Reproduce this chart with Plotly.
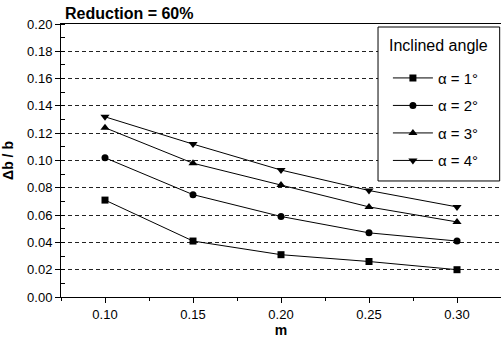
import plotly.graph_objects as go

m_values = [0.10, 0.15, 0.20, 0.25, 0.30]
alpha1 = [0.071, 0.041, 0.031, 0.026, 0.020]
alpha2 = [0.102, 0.075, 0.059, 0.047, 0.041]
alpha3 = [0.124, 0.098, 0.082, 0.066, 0.055]
alpha4 = [0.132, 0.112, 0.093, 0.078, 0.066]
series_names = ["α = 1°", "α = 2°", "α = 3°", "α = 4°"]
x_ticks = [0.10, 0.15, 0.20, 0.25, 0.30]
x_tick_labels = ["0.10", "0.15", "0.20", "0.25", "0.30"]

symbols = ["square", "circle", "triangle-up", "triangle-down"]
sizes = [7, 7, 8, 8]

FONT = "Liberation Sans, Arial, sans-serif"

fig = go.Figure()
for i, (name, ys) in enumerate(zip(series_names, [alpha1, alpha2, alpha3, alpha4])):
    fig.add_trace(go.Scatter(
        x=m_values, y=ys, name=name, mode="lines+markers",
        legendgroup=f"g{i}",
        line=dict(color="black", width=1),
        marker=dict(symbol=symbols[i], size=sizes[i], color="black"),
    ))

fig.update_layout(
    width=501, height=338,
    margin=dict(l=61, r=0, t=24, b=41),
    paper_bgcolor="white", plot_bgcolor="white",
    font=dict(family=FONT, color="black", size=12),
    showlegend=True,
    legend=dict(
        x=0.743, y=0.862, xanchor="left", yanchor="top",
        bgcolor="rgba(0,0,0,0)", borderwidth=0,
        font=dict(size=15, family=FONT),
        tracegroupgap=5,
        itemwidth=40,
    ),
    xaxis=dict(
        range=[0.075, 0.325], tickvals=x_ticks, ticktext=x_tick_labels,
        showgrid=False, zeroline=False,
        showline=True, linecolor="black", linewidth=1, mirror=True,
        ticks="outside", ticklen=5, tickcolor="black",
        minor=dict(dtick=0.025, tick0=0.075, ticks="outside", ticklen=3, tickcolor="black"),
        tickfont=dict(size=13),
        title=dict(text="<b>m</b>", font=dict(size=14), standoff=0),
    ),
    yaxis=dict(
        range=[0, 0.20], dtick=0.02, tickformat=".2f",
        showgrid=True, gridcolor="#222222", gridwidth=1, griddash="4px,3px",
        zeroline=False,
        showline=True, linecolor="black", linewidth=1,
        ticks="outside", ticklen=5, tickcolor="black",
        minor=dict(dtick=0.01, ticks="inside", ticklen=4, tickcolor="black", showgrid=False),
        tickfont=dict(size=13),
        title=dict(text="<b>Δb / b</b>", font=dict(size=14), standoff=10),
    ),
    shapes=[dict(
        type="rect", xref="paper", yref="paper",
        x0=0.7205, x1=0.997, y0=0.425, y1=0.989,
        line=dict(color="black", width=1), fillcolor="white", layer="above",
    )],
    annotations=[
        dict(
            text="<b>Reduction = 60%</b>", xref="paper", yref="paper",
            x=0.005, y=1.0, xanchor="left", yanchor="bottom",
            showarrow=False, font=dict(size=16, family=FONT),
        ),
        dict(
            text="Inclined angle", xref="paper", yref="paper",
            x=0.859, y=0.923, xanchor="center", yanchor="middle",
            showarrow=False, font=dict(size=16, family=FONT),
        ),
    ],
)

fig.write_html("out.html", config={"displayModeBar": False},
               post_script="document.body.style.margin='0px';")
